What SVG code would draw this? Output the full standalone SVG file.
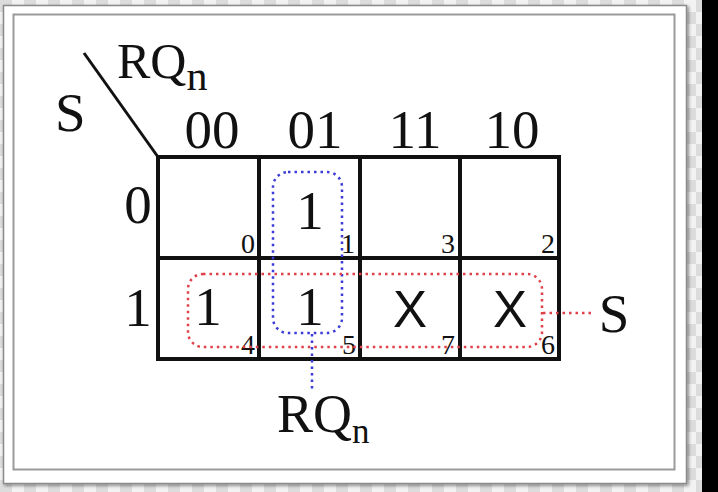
<svg xmlns="http://www.w3.org/2000/svg" width="718" height="492" viewBox="0 0 718 492">
<defs>
<pattern id="chk" width="24" height="24" patternUnits="userSpaceOnUse">
<rect width="24" height="24" fill="#f2f2f2"/>
<rect width="12" height="12" fill="#dcdcdc"/>
<rect x="12" y="12" width="12" height="12" fill="#dcdcdc"/>
</pattern>
<filter id="sh" x="-5%" y="-5%" width="110%" height="110%">
<feDropShadow dx="1.5" dy="1.5" stdDeviation="1.5" flood-color="#000" flood-opacity="0.45"/>
</filter>
</defs>
<style>
text{font-family:'Liberation Serif','Times New Roman',Times,serif;fill:#111}
.big{font-size:55px}
.idx{font-size:28px;text-anchor:end}
text.x{font-family:'Liberation Sans',Arial,sans-serif;font-size:51px;text-anchor:middle}
.grid{fill:none;stroke:#111;stroke-width:4}
.blue{fill:none;stroke:#3b3bd8;stroke-width:2.5;stroke-dasharray:2.5 4}
.red{fill:none;stroke:#e0404a;stroke-width:2.5;stroke-dasharray:2.5 4}
</style>
<rect width="718" height="492" fill="url(#chk)"/>
<rect x="702" y="0" width="16" height="492" fill="#000"/>
<g id="frame">
<rect x="3.5" y="5.5" width="683" height="478" fill="#fff" stroke="#8a8a8a" stroke-width="1.5" filter="url(#sh)"/>
<rect x="13.5" y="14.5" width="661" height="455" fill="none" stroke="#9a9a9a" stroke-width="2"/>
</g>
<g id="header" font-family="Liberation Serif, serif">
<line x1="84" y1="53" x2="158" y2="157" stroke="#111" stroke-width="3"/>
<text x="55" y="131" font-size="55">S</text>
<text x="117" y="78" font-size="50">RQ<tspan font-size="42" dy="12">n</tspan></text>
<text class="big" x="212" y="148" text-anchor="middle">00</text>
<text class="big" x="315" y="148" text-anchor="middle">01</text>
<text class="big" x="415" y="148" text-anchor="middle">11</text>
<text class="big" x="512" y="148" text-anchor="middle">10</text>
<text class="big" x="138" y="223" text-anchor="middle">0</text>
<text class="big" x="138" y="326" text-anchor="middle">1</text>
</g>
<g id="grid">
<rect class="grid" x="158" y="157" width="401" height="202"/>
<line class="grid" x1="259" y1="157" x2="259" y2="359"/>
<line class="grid" x1="360" y1="157" x2="360" y2="359"/>
<line class="grid" x1="460" y1="157" x2="460" y2="359"/>
<line class="grid" x1="158" y1="258" x2="559" y2="258"/>
</g>
<g id="cells">
<text class="big" x="310" y="229" text-anchor="middle">1</text>
<text class="big" x="208" y="325" text-anchor="middle">1</text>
<text class="big" x="310" y="325" text-anchor="middle">1</text>
<text class="x" x="410" y="327">X</text>
<text class="x" x="510" y="327">X</text>
<text class="idx" x="255" y="253">0</text>
<text class="idx" x="355" y="253">1</text>
<text class="idx" x="455" y="253">3</text>
<text class="idx" x="555" y="253">2</text>
<text class="idx" x="255" y="354">4</text>
<text class="idx" x="356" y="354">5</text>
<text class="idx" x="455" y="354">7</text>
<text class="idx" x="555" y="354">6</text>
</g>
<g id="group-RQn">
<rect class="blue" x="273" y="172" width="69" height="161" rx="15"/>
</g>
<g id="group-S">
<rect class="red" x="188" y="274" width="354" height="73" rx="15"/>
</g>
<g id="connectors">
<line class="blue" x1="312" y1="334" x2="312" y2="392"/>
<line class="red" x1="543" y1="313" x2="594" y2="313"/>
</g>
<g id="label-RQn">
<text x="277" y="432" font-size="54">RQ<tspan font-size="35" dy="11">n</tspan></text>
</g>
<g id="label-S">
<text x="614" y="332" font-size="55" text-anchor="middle">S</text>
</g>
</svg>
